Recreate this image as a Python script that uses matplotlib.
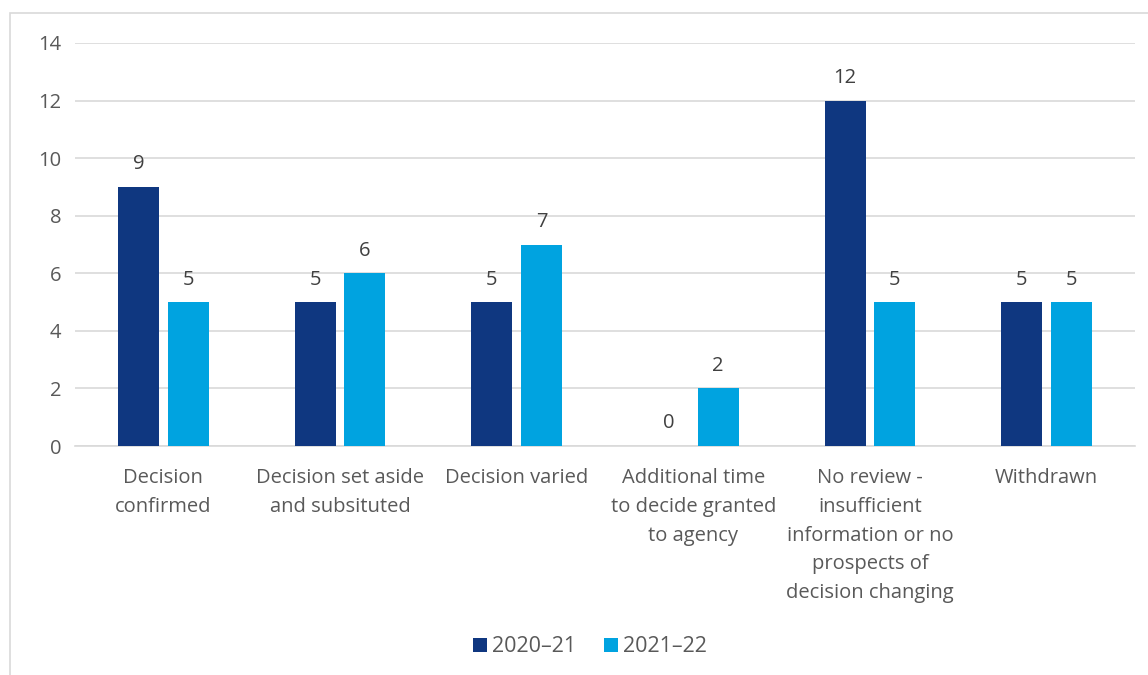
import matplotlib.pyplot as plt
from matplotlib.patches import Rectangle
import numpy as np

categories = [
    "Decision\nconfirmed",
    "Decision set aside\nand subsituted",
    "Decision varied",
    "Additional time\nto decide granted\nto agency",
    "No review -\ninsufficient\ninformation or no\nprospects of\ndecision changing",
    "Withdrawn",
]
series_names = ["2020\u201321", "2021\u201322"]
values_2020 = [9, 5, 5, 0, 12, 5]
values_2021 = [5, 6, 7, 2, 5, 5]
colors = ["#0F3780", "#00A3E0"]
text_color = "#595959"

plt.rcParams['font.family'] = ['Open Sans', 'DejaVu Sans']

fig = plt.figure(figsize=(11.48, 6.75), dpi=100)
ax = fig.add_axes([75 / 1148, 1 - 446 / 675, 1060 / 1148, 403 / 675])

# outer chart border
fig.patches.append(Rectangle((10 / 1148, -0.1), 1.2, 1 - 13 / 675 + 0.1,
                             transform=fig.transFigure, fill=False,
                             edgecolor="#D9D9D9", linewidth=1.2))

x = np.arange(len(categories))
w = 0.232
gap = 0.05
for i, (vals, name) in enumerate(zip([values_2020, values_2021], series_names)):
    pos = x + (i - 0.5) * (w + gap)
    bars = ax.bar(pos, vals, width=w, color=colors[i], label=name, zorder=3)
    for b, v in zip(bars, vals):
        ax.annotate(str(v), (b.get_x() + b.get_width() / 2, v), xytext=(0, 9),
                    textcoords="offset points", ha="center", va="bottom",
                    fontsize=14.5, color="#404040")

ax.set_xlim(-0.5, len(categories) - 0.5)
ax.set_ylim(0, 14)
ax.set_yticks(range(0, 15, 2))
ax.set_xticks(x)
ax.set_xticklabels(categories, fontsize=14.5, color=text_color, va="top",
                   linespacing=1.58)
ax.tick_params(axis="y", labelsize=14.5, labelcolor=text_color, length=0, pad=10)
ax.tick_params(axis="x", length=0, pad=16)
ax.grid(axis="y", color="#D9D9D9", linewidth=1.2, zorder=0)
for s in ["top", "right", "left"]:
    ax.spines[s].set_visible(False)
ax.spines["bottom"].set_color("#D9D9D9")
ax.spines["bottom"].set_linewidth(1.2)

fig.legend(loc="center", bbox_to_anchor=(590 / 1148, 1 - 647 / 675), ncol=2,
           frameon=False, fontsize=15.5, handlelength=0.65, handleheight=0.65,
           handletextpad=0.25, columnspacing=1.3, labelcolor=text_color)

fig.savefig("out.png", dpi=100)
